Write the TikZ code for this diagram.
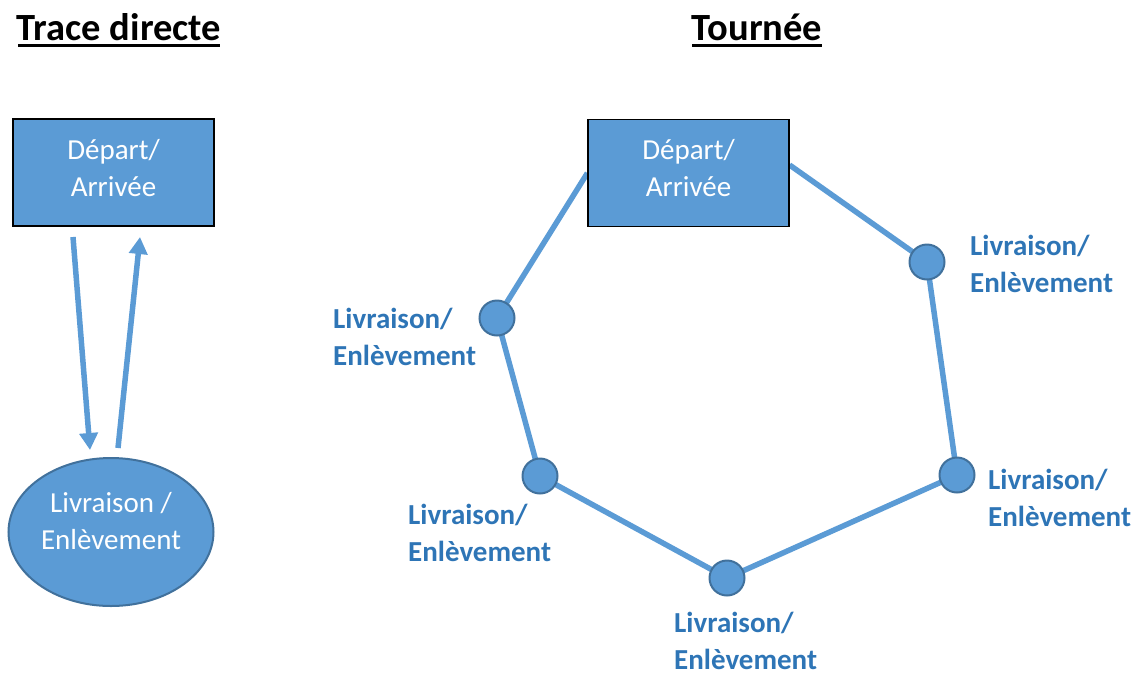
\documentclass[tikz,border=0pt]{standalone}
\usepackage{fontspec}
\setmainfont{Carlito}
\usetikzlibrary{shapes.geometric,arrows.meta,backgrounds}
\definecolor{fillblue}{HTML}{5B9BD5}
\definecolor{edgeblue}{HTML}{41719C}
\definecolor{textblue}{HTML}{2E75B6}
\tikzset{
  boxnode/.style={draw=black, line width=1.2pt, fill=fillblue, minimum width=201pt, minimum height=107pt, inner sep=0pt},
  boxtext/.style={text=white, align=center, inner sep=0pt, font=\fontsize{29}{37}\selectfont},
  ellnode/.style={ellipse, draw=edgeblue, line width=2pt, fill=fillblue, minimum width=205pt, minimum height=148pt, inner sep=0pt},
  stopnode/.style={circle, draw=edgeblue, line width=2pt, fill=fillblue, minimum size=35pt, inner sep=0pt},
  stoplabel/.style={text=textblue, align=left, anchor=west, inner sep=0pt, font=\bfseries\fontsize{29}{37}\selectfont},
  routeline/.style={draw=fillblue, line width=5.5pt},
  arrowline/.style={draw=fillblue, line width=5.5pt, -{Triangle[width=18pt,length=17pt]}},
  titletext/.style={anchor=base, inner sep=0pt, font=\bfseries\fontsize{38.5}{46}\selectfont},
  underl/.style={line width=3pt}
}
\begin{document}
\begin{tikzpicture}[x=1pt,y=-1pt]
\useasboundingbox (0,0) rectangle (1141,673);
% titles
\node[titletext] (t1) at (119,40) {Trace directe};
\node[titletext] (t2) at (757,40) {Tournée};
\draw[underl] (18,45.5) -- (220,45.5);
\draw[underl] (692,45.5) -- (822,45.5);
% left: trace directe
\node[boxnode] (dep1) at (113.5,172.5) {};
\node[boxtext] (dep1t) at (113.5,168) {Départ/\\Arrivée};
\node[ellnode] (liv) at (111,532) {};
\node[boxtext] (livt) at (111,521) {Livraison /\\Enlèvement};
\coordinate (a1s) at (73,237);
\coordinate (a1e) at (90,450);
\coordinate (a2s) at (118,448);
\coordinate (a2e) at (140,237);
\draw[arrowline] (a1s) -- (a1e);
\draw[arrowline] (a2s) -- (a2e);
% right: tournee
\node[boxnode] (dep2) at (688.5,173) {};
\node[boxtext] (dep2t) at (688.5,168) {Départ/\\Arrivée};
\node[stopnode] (s1) at (497,318) {};
\node[stopnode] (s2) at (540,476) {};
\node[stopnode] (s3) at (727,578) {};
\node[stopnode] (s4) at (957,475) {};
\node[stopnode] (s5) at (927,262) {};
\begin{scope}[on background layer]
\draw[routeline] (dep2.west) -- (s1.center) -- (s2.center) -- (s3.center) -- (s4.center) -- (s5.center) -- ([yshift=8pt]dep2.east);
\end{scope}
\node[stoplabel] (l1) at (333,337) {Livraison/\\Enlèvement};
\node[stoplabel] (l2) at (408,533) {Livraison/\\Enlèvement};
\node[stoplabel] (l3) at (674,641) {Livraison/\\Enlèvement};
\node[stoplabel] (l4) at (988,498) {Livraison/\\Enlèvement};
\node[stoplabel] (l5) at (970,264) {Livraison/\\Enlèvement};
\end{tikzpicture}
\end{document}
